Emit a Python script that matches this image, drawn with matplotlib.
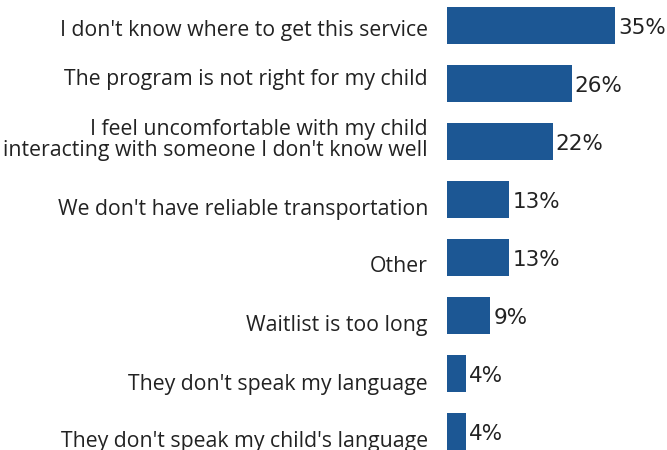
import matplotlib
matplotlib.use("Agg")
import matplotlib.pyplot as plt
from matplotlib import transforms

categories = [
    "I don't know where to get this service",
    "The program is not right for my child",
    "I feel uncomfortable with my child\ninteracting with someone I don't know well",
    "We don't have reliable transportation",
    "Other",
    "Waitlist is too long",
    "They don't speak my language",
    "They don't speak my child's language",
]
values = [35, 26, 22, 13, 13, 9, 4, 4]
value_labels = ["35%", "26%", "22%", "13%", "13%", "9%", "4%", "4%"]

W, H = 667, 450
fig = plt.figure(figsize=(W / 100, H / 100), dpi=100)
left = 447 / W
ax = fig.add_axes([left, 0, 1 - left, 1])

pos = list(range(len(categories)))
ax.barh(pos, values, height=37 / 58, color="#1c5794", edgecolor="none")
ax.set_xlim(0, (W - 447) / 4.8)
ax.set_ylim((450 - 25.5) / 58, -25.5 / 58)

def px(dx, dy):
    return transforms.ScaledTranslation(dx / 100, -dy / 100, fig.dpi_scale_trans)

for p, v, lab in zip(pos, values, value_labels):
    ax.text(v, p, lab, va="baseline", ha="left", fontsize=15.5,
            family="DejaVu Sans", color="#222222",
            transform=ax.transData + px(3, 8.5))

# baseline offsets (pixels below bar centre) for each label line
label_offsets = [[10.5], [1.5], [-6.5, 14.5], [15.5], [14.5], [15.5], [16.5], [15.5]]
ytrans = transforms.blended_transform_factory(ax.transAxes, ax.transData)
for p, lab, offs in zip(pos, categories, label_offsets):
    for line, off in zip(lab.split("\n"), offs):
        ax.text(0, p, line, va="baseline", ha="right", fontsize=15.3,
                family="Open Sans", color="#222222",
                transform=ytrans + px(-19, off), clip_on=False)

ax.set_yticks([])
ax.set_xticks([])
for s in ax.spines.values():
    s.set_visible(False)

fig.savefig("out.png", dpi=100)
